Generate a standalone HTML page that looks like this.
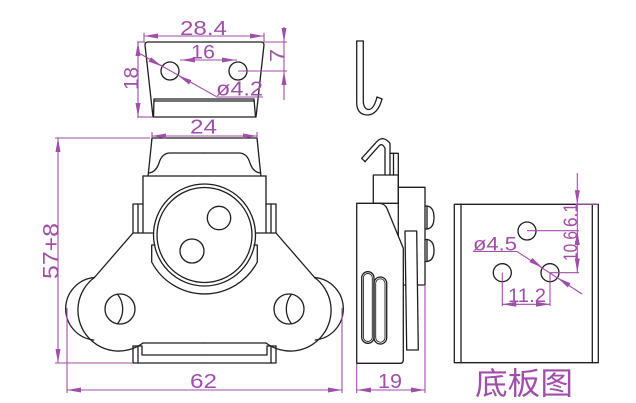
<!DOCTYPE html>
<html>
<head>
<meta charset="utf-8">
<style>
html,body{margin:0;padding:0;background:#fff;}
svg{display:block;}
.k{fill:none;stroke:#1e1e1e;stroke-width:1.3;stroke-linejoin:round;stroke-linecap:round;}
.p{fill:none;stroke:#a04fa9;stroke-width:1.1;}
.a{fill:#a04fa9;stroke:none;}
.t{fill:#a04fa9;font-family:"Liberation Sans",sans-serif;}
.c{fill:#a04fa9;font-family:"Liberation Sans","Noto Sans CJK SC",sans-serif;}
</style>
</head>
<body>
<svg width="636" height="403" viewBox="0 0 636 403" xmlns="http://www.w3.org/2000/svg">
<rect width="636" height="403" fill="#fff"/>

<!-- ===== TOP VIEW (plate) ===== -->
<g class="k">
  <path d="M148,42 L261,42 Q264,42 264,45 L256,117 L153,117 L145,45 Q145,42 148,42 Z"/>
  <path d="M154,99 L254,99"/>
  <path d="M154,101 L254,101"/>
  <path d="M154,99 L153.5,117"/>
  <path d="M254,99 L255.5,117"/>
  <circle cx="170" cy="71" r="9"/>
  <circle cx="238" cy="71" r="9"/>
</g>
<!-- top view dims -->
<g class="p">
  <path d="M144,36 L264,36"/>
  <path d="M144,33 L144,42"/>
  <path d="M264,33 L264,42"/>
  <path d="M180,60 L237,60"/>
  <path d="M138,42 L138,117"/>
  <path d="M137,42 L145,42"/>
  <path d="M137,117 L153,117"/>
  <path d="M284,27 L284,100"/>
  <path d="M264,42 L287,42"/>
  <path d="M238,71 L287,71"/>
  <path d="M137,52 L217,97 L263,97"/>
</g>
<g class="a">
  <polygon points="144,36 158,33.5 158,38.5"/>
  <polygon points="264,36 250,33.5 250,38.5"/>
  <polygon points="181,60 195,57.5 195,62.5"/>
  <polygon points="236,60 222,57.5 222,62.5"/>
  <polygon points="138,42 135.5,56 140.5,56"/>
  <polygon points="138,117 135.5,103 140.5,103"/>
  <polygon points="284,42 281.5,28 286.5,28"/>
  <polygon points="284,71 281.5,85 286.5,85"/>
  <polygon points="162,66.4 148.6,61.6 151,57.2"/>
  <polygon points="178,75.4 189,84.5 191.4,80.1"/>
</g>
<text class="t" x="180" y="35" font-size="20" textLength="47" lengthAdjust="spacingAndGlyphs">28.4</text>
<text class="t" x="191" y="58.5" font-size="19" textLength="24" lengthAdjust="spacingAndGlyphs">16</text>
<text class="t" transform="translate(138,90) rotate(-90)" font-size="20" textLength="23" lengthAdjust="spacingAndGlyphs">18</text>
<text class="t" transform="translate(284,62) rotate(-90)" font-size="20" textLength="13" lengthAdjust="spacingAndGlyphs">7</text>
<text class="t" x="216" y="95.5" font-size="20" textLength="47" lengthAdjust="spacingAndGlyphs">ø4.2</text>

<!-- ===== FRONT VIEW ===== -->
<g class="k">
  <path d="M204.5,138 L152,138 L148.5,172 L148,176"/>
  <path d="M143,176 L204.5,176"/>
  <path d="M149,173 Q156,172 159,163 Q162,153 170,153 L204.5,153"/>
  <path d="M143,176 L143,233"/>
  <path d="M143,204 L133,204 L133,233 L153.5,233"/>
  <path d="M138,204 L138,233"/>
  <path d="M133,233 L94.4,277.5"/>
  <path d="M94.4,277.5 A40,40 0 0 0 143,343"/>
  <path d="M94.4,277.5 A31.4,31.4 0 0 0 93.7,340"/>
  <path d="M143,343 L204.5,343"/>
  <path d="M142,346.5 L142,355 L204.5,355"/>
  <path d="M133,346 L133,363 L204.5,363"/>
  <path d="M133,346 L142,346"/>
  <path d="M138,346 L138,363"/>
  <circle cx="120" cy="309" r="15"/>
  <path d="M117.7,294.5 A23.5,23.5 0 0 1 117.7,323.5"/>
</g>
<g class="k" transform="matrix(-1,0,0,1,409,0)">
  <path d="M204.5,138 L152,138 L148.5,172 L148,176"/>
  <path d="M143,176 L204.5,176"/>
  <path d="M149,173 Q156,172 159,163 Q162,153 170,153 L204.5,153"/>
  <path d="M143,176 L143,233"/>
  <path d="M143,204 L133,204 L133,233 L153.5,233"/>
  <path d="M138,204 L138,233"/>
  <path d="M133,233 L94.4,277.5"/>
  <path d="M94.4,277.5 A40,40 0 0 0 143,343"/>
  <path d="M94.4,277.5 A31.4,31.4 0 0 0 93.7,340"/>
  <path d="M143,343 L204.5,343"/>
  <path d="M142,346.5 L142,355 L204.5,355"/>
  <path d="M133,346 L133,363 L204.5,363"/>
  <path d="M133,346 L142,346"/>
  <path d="M138,346 L138,363"/>
  <circle cx="120" cy="309" r="15"/>
  <path d="M117.7,294.5 A23.5,23.5 0 0 1 117.7,323.5"/>
</g>
<g class="k">
  <circle cx="204.5" cy="235" r="51" fill="#fff"/>
  <circle cx="204.5" cy="235" r="47.5"/>
  <path d="M155,245 L151.7,245 L151.7,262 A59.6,59.6 0 0 0 257.3,262 L257.3,245 L254,245"/>
  <circle cx="219" cy="218" r="11.7"/>
  <circle cx="192" cy="251" r="12"/>
</g>
<!-- front dims -->
<g class="p">
  <path d="M152,136 L257,136"/>
  <path d="M152,132 L152,138"/>
  <path d="M257,132 L257,138"/>
  <path d="M58,138 L58,363"/>
  <path d="M55,138 L150,138"/>
  <path d="M55,363 L133,363"/>
  <path d="M67,390 L342,390"/>
  <path d="M67,308 L67,393"/>
  <path d="M342,308 L342,393"/>
</g>
<g class="a">
  <polygon points="152,136 166,133.5 166,138.5"/>
  <polygon points="257,136 243,133.5 243,138.5"/>
  <polygon points="58,138 55.5,152 60.5,152"/>
  <polygon points="58,363 55.5,349 60.5,349"/>
  <polygon points="67,390 81,387.5 81,392.5"/>
  <polygon points="342,390 328,387.5 328,392.5"/>
</g>
<text class="t" x="190" y="133.5" font-size="20" textLength="27" lengthAdjust="spacingAndGlyphs">24</text>
<text class="t" transform="translate(58.5,279) rotate(-90)" font-size="22" textLength="56" lengthAdjust="spacingAndGlyphs">57+8</text>
<text class="t" x="190" y="388" font-size="20" textLength="27" lengthAdjust="spacingAndGlyphs">62</text>

<!-- ===== SIDE VIEW ===== -->
<g class="k">
  <path d="M356.7,41 L363.3,41"/>
  <path d="M356.7,41 L356.7,103 Q357,115 368,115 Q378,114 382,99"/>
  <path d="M363.3,41 L363.3,102 Q364,109.5 369,109.5 Q374,109 377,97"/>
  <path d="M377,97 L382,99"/>
  <path d="M361.7,158.3 L376.7,141.7 Q383,135 390,143.3 L390,175"/>
  <path d="M365,161.7 L378.3,146.7 Q382,142 385,148.3 L385,175"/>
  <path d="M361.7,158.3 L365,161.7"/>
  <path d="M390,153.3 L398.3,153.3 L398.3,187.3"/>
  <path d="M393.5,153.3 L393.5,175"/>
  <rect x="373.3" y="175" width="25" height="28.3"/>
  <rect x="398.3" y="187.3" width="26.7" height="97.7"/>
  <path d="M425,206 L427,206 Q434,207 434,217.5 Q434,228 427,229 L425,229"/>
  <path d="M427,206 L427,229"/>
  <path d="M425,239.5 L427,239.5 Q434,240.5 434,250.5 Q434,260.5 427,261.5 L425,261.5"/>
  <path d="M427,239.5 L427,261.5"/>
  <path d="M405,231 L416.7,231 L418.3,350 L406.7,350 Z" fill="#fff"/>
  <path d="M356.7,203.3 L380,203.3 Q385,204 387,208.5 L403.3,248.3 L403.3,360 Q403.3,363.3 400,363.3 L356.7,363.3 Z" fill="#fff"/>
  <rect x="361.7" y="271.7" width="12.3" height="71.6" rx="6.1"/>
  <rect x="363.4" y="273.5" width="8.9" height="68" rx="4.4" stroke-width="0.9"/>
  <rect x="374" y="277" width="12.7" height="67" rx="6.3"/>
  <rect x="375.7" y="278.8" width="9.3" height="63.4" rx="4.6" stroke-width="0.9"/>
</g>
<g class="p">
  <path d="M357,390 L425,390"/>
  <path d="M356.7,364 L356.7,393"/>
  <path d="M425,285 L425,393"/>
</g>
<g class="a">
  <polygon points="357,390 371,387.5 371,392.5"/>
  <polygon points="425,390 411,387.5 411,392.5"/>
</g>
<text class="t" x="378" y="388" font-size="20" textLength="24" lengthAdjust="spacingAndGlyphs">19</text>

<!-- ===== BOTTOM PLATE VIEW ===== -->
<g class="k">
  <rect x="454.3" y="204.3" width="144" height="158.4"/>
  <path d="M461,204.3 L461,362.7"/>
  <path d="M592.3,204.3 L592.3,362.7"/>
  <circle cx="527" cy="231" r="9"/>
  <circle cx="502.3" cy="272.7" r="9"/>
  <circle cx="550" cy="272.7" r="9"/>
</g>
<g class="p">
  <path d="M502.3,272.7 L502.3,306"/>
  <path d="M550,272.7 L550,306"/>
  <path d="M502.3,304.3 L550,304.3"/>
  <path d="M577.3,173 L577.3,272.7"/>
  <path d="M577,204.3 L598,204.3"/>
  <path d="M527,230.7 L579,230.7"/>
  <path d="M550,272.7 L579,272.7"/>
  <path d="M473,251.5 L517,251.5 L582,294"/>
</g>
<g class="a">
  <polygon points="502.3,304.3 516.3,301.8 516.3,306.8"/>
  <polygon points="550,304.3 536,301.8 536,306.8"/>
  <polygon points="577.3,204.3 574.8,190.3 579.8,190.3"/>
  <polygon points="577.3,231 574.8,245 579.8,245"/>
  <polygon points="577.3,272.5 574.8,258.5 579.8,258.5"/>
  <polygon points="542.5,267.7 529.4,262.1 532.2,257.9"/>
  <polygon points="557.5,277.7 567.8,287.5 570.6,283.3"/>
</g>
<text class="t" x="508" y="302" font-size="19" textLength="38" lengthAdjust="spacingAndGlyphs">11.2</text>
<text class="t" x="473" y="250.5" font-size="19" textLength="44" lengthAdjust="spacingAndGlyphs">ø4.5</text>
<text class="t" transform="translate(577,227) rotate(-90)" font-size="19" textLength="24" lengthAdjust="spacingAndGlyphs">6.1</text>
<text class="t" transform="translate(577,261) rotate(-90)" font-size="19" textLength="30" lengthAdjust="spacingAndGlyphs">10.6</text>
<text class="c" x="475" y="394.5" font-size="31" textLength="98" lengthAdjust="spacingAndGlyphs">底板图</text>
</svg>
</body>
</html>
